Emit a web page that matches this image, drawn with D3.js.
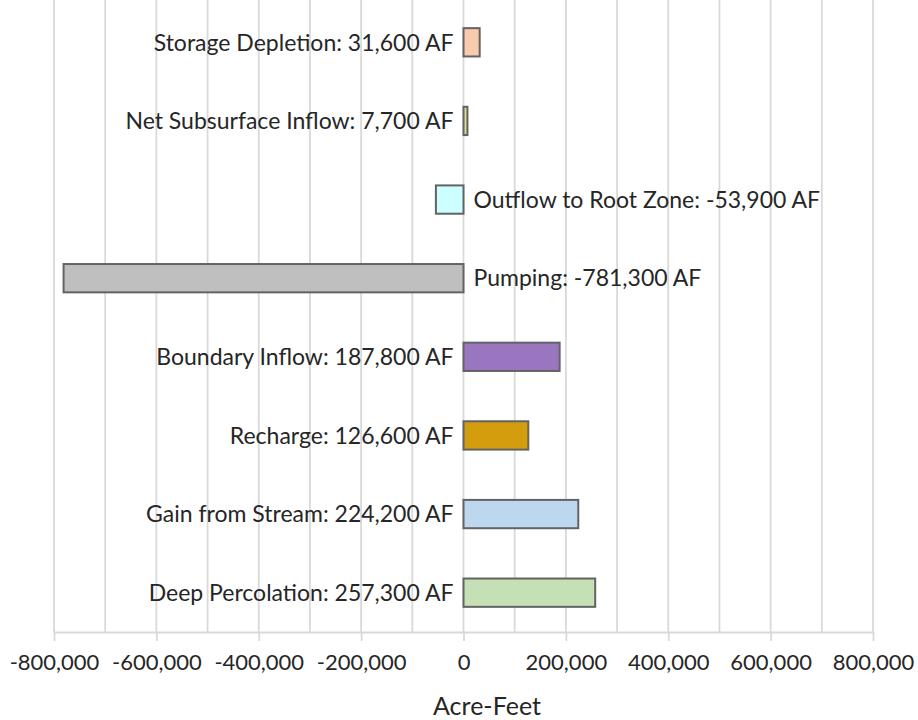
<!DOCTYPE html>
<html>
<head>
<meta charset="utf-8">
<script src="https://cdn.jsdelivr.net/npm/d3@7"></script>
<style>
  html, body { margin: 0; padding: 0; background: #fff; }
  svg { display: block; }
  text { font-family: Lato, "Open Sans", sans-serif; fill: #262626; }
</style>
</head>
<body>
<svg id="chart" width="918" height="720"></svg>
<script>
// Groundwater budget components, top to bottom
const categories = [
  "Storage Depletion",
  "Net Subsurface Inflow",
  "Outflow to Root Zone",
  "Pumping",
  "Boundary Inflow",
  "Recharge",
  "Gain from Stream",
  "Deep Percolation"
];
const values = [31600, 7700, -53900, -781300, 187800, 126600, 224200, 257300];
const colors = ["#F8CBAD", "#DADB9C", "#CCFFFF", "#BFBFBF", "#9B76C0", "#D39D0D", "#BDD7EE", "#C5E0B4"];
const tickValues = [-800000, -600000, -400000, -200000, 0, 200000, 400000, 600000, 800000];
const gridValues = d3.range(-800000, 800001, 100000);
const axisTitle = "Acre-Feet";

const svg = d3.select("#chart");
const margin = { top: 3, left: 54, right: 45, bottom: 88 };
const width = 918, height = 720;
const plotBottom = height - margin.bottom;

const x = d3.scaleLinear()
  .domain([-800000, 800000])
  .range([margin.left, width - margin.right]);

const y = d3.scaleBand()
  .domain(categories)
  .range([margin.top, plotBottom])
  .paddingInner(0.64)
  .paddingOuter(0.32);

// thousands separators with a plain hyphen for negatives
const comma = d3.format(",");
const fmt = v => comma(v).replace("\u2212", "-");

// vertical gridlines
svg.append("g")
  .selectAll("line")
  .data(gridValues)
  .join("line")
  .attr("x1", d => x(d)).attr("x2", d => x(d))
  .attr("y1", 0).attr("y2", plotBottom)
  .attr("stroke", "#D9D9D9")
  .attr("stroke-width", 1.8);

// bottom axis
const axis = svg.append("g")
  .attr("transform", `translate(0,${plotBottom})`)
  .call(d3.axisBottom(x).tickValues(tickValues).tickSize(9).tickSizeOuter(0).tickPadding(13)
    .tickFormat(d => d === 0 ? "0" : fmt(d)));
axis.select(".domain").attr("stroke", "#D9D9D9").attr("stroke-width", 1.8);
axis.selectAll(".tick line").attr("stroke", "#D9D9D9").attr("stroke-width", 1.8);
axis.selectAll(".tick text")
  .attr("font-family", "Lato, sans-serif")
  .attr("font-size", 22)
  .attr("fill", "#262626");

// bars
const rows = categories.map((c, i) => ({ name: c, value: values[i], color: colors[i] }));

svg.append("g")
  .selectAll("rect")
  .data(rows)
  .join("rect")
  .attr("x", d => x(Math.min(0, d.value)))
  .attr("width", d => Math.abs(x(d.value) - x(0)))
  .attr("y", d => y(d.name))
  .attr("height", y.bandwidth())
  .attr("fill", d => d.color)
  .attr("stroke", "#636363")
  .attr("stroke-width", 2);

// labels on the opposite side of zero
svg.append("g")
  .selectAll("text")
  .data(rows)
  .join("text")
  .attr("x", d => d.value >= 0 ? x(0) - 10 : x(0) + 10)
  .attr("y", d => y(d.name) + y.bandwidth() / 2)
  .attr("dy", "0.36em")
  .attr("text-anchor", d => d.value >= 0 ? "end" : "start")
  .attr("font-size", 23)
  .text(d => `${d.name}: ${fmt(d.value)} AF`);

// axis title
svg.append("text")
  .attr("x", 487)
  .attr("y", 715)
  .attr("text-anchor", "middle")
  .attr("font-size", 25)
  .text(axisTitle);
</script>
</body>
</html>
